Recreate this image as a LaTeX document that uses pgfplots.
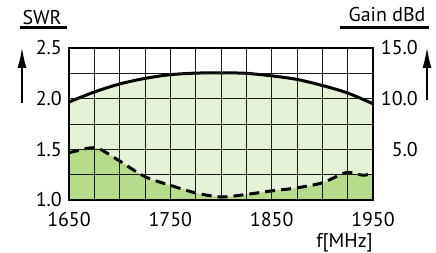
\documentclass[border=0pt]{standalone}
\usepackage{pgfplots}
\pgfplotsset{compat=1.18}
\usepackage{fontspec}
\setmainfont{PT Sans}
\usetikzlibrary{arrows.meta}
\definecolor{lightg}{HTML}{E6F2D8}
\definecolor{darkg}{HTML}{B6DC8A}
\definecolor{gridc}{HTML}{1A1A1A}
\begin{document}
\begin{tikzpicture}
\path[use as bounding box] (-69bp,-53bp) rectangle (367bp,200bp);
\begin{axis}[
  at={(0,0)}, anchor=south west,
  scale only axis, width=304bp, height=152bp,
  xmin=1650, xmax=1950, ymin=1, ymax=2.5,
  font=\fontsize{20}{23}\selectfont,
  xtick={1650,1675,...,1950},
  xticklabels={1650,,,,1750,,,,1850,,,,1950},
  ytick={1,1.25,1.5,1.75,2,2.25,2.5},
  yticklabels={1.0,,1.5,,2.0,,2.5},
  major tick length=0pt,
  grid=major,
  grid style={gridc, line width=0.9bp},
  axis line style={line width=1.6bp},
  yticklabel style={anchor=east, inner sep=0pt, xshift=-7bp},
  xticklabel style={anchor=north, inner sep=0pt, yshift=-12bp},
  axis on top,
  clip=true,
]
% gain curve (in SWR units: SWR = 1 + gain/10)
\addplot[fill=lightg, draw=none, smooth] coordinates {
 (1650,1.967) (1675,2.066) (1700,2.145) (1725,2.20) (1750,2.237) (1775,2.252)
 (1800,2.255) (1825,2.25) (1850,2.225) (1875,2.19) (1900,2.13) (1925,2.056) (1950,1.95)
} \closedcycle;
\addplot[fill=darkg, draw=none, smooth] coordinates {
 (1650,1.467) (1660,1.49) (1670,1.513) (1680,1.505) (1700,1.385) (1725,1.23) (1750,1.145)
 (1775,1.07) (1800,1.03) (1825,1.055) (1850,1.09) (1875,1.12) (1900,1.17) (1920,1.26)
 (1928,1.27) (1940,1.245) (1950,1.26)
} \closedcycle;
\addplot[black, line width=3bp, smooth] coordinates {
 (1650,1.967) (1675,2.066) (1700,2.145) (1725,2.20) (1750,2.237) (1775,2.252)
 (1800,2.255) (1825,2.25) (1850,2.225) (1875,2.19) (1900,2.13) (1925,2.056) (1950,1.95)
};
\addplot[black, line width=3bp, smooth, dash pattern=on 10bp off 6bp] coordinates {
 (1650,1.467) (1660,1.49) (1670,1.513) (1680,1.505) (1700,1.385) (1725,1.23) (1750,1.145)
 (1775,1.07) (1800,1.03) (1825,1.055) (1850,1.09) (1875,1.12) (1900,1.17) (1920,1.26)
 (1928,1.27) (1940,1.245) (1950,1.26)
};
\end{axis}
\begin{axis}[
  at={(0,0)}, anchor=south west,
  scale only axis, width=304bp, height=152bp,
  xmin=1650, xmax=1950, ymin=0, ymax=15,
  font=\fontsize{20}{23}\selectfont,
  axis x line=none, axis y line*=right,
  axis line style={draw=none},
  ytick={5,10,15}, yticklabels={5.0,10.0,15.0},
  major tick length=0pt,
  yticklabel style={anchor=east, inner sep=0pt, xshift=45bp},
]
\addplot[draw=none] coordinates {(1650,0)};
\end{axis}
\begin{scope}[font=\fontsize{20}{23}\selectfont]
\node at (-27bp,182bp) {SWR};
\draw[line width=3bp] (-49bp,172bp) -- (-2bp,172bp);
\draw[line width=1.2bp, -{Latex[length=20bp,width=9bp]}] (-47bp,97bp) -- (-47bp,152bp);
\node at (318bp,185bp) {Gain dBd};
\draw[line width=3bp] (271bp,172bp) -- (360bp,172bp);
\draw[line width=1.2bp, -{Latex[length=20bp,width=9bp]}] (358bp,100bp) -- (358bp,152bp);
\node[anchor=east, inner sep=0pt] at (304bp,-43bp) {f[MHz]};
\end{scope}
\end{tikzpicture}
\end{document}
